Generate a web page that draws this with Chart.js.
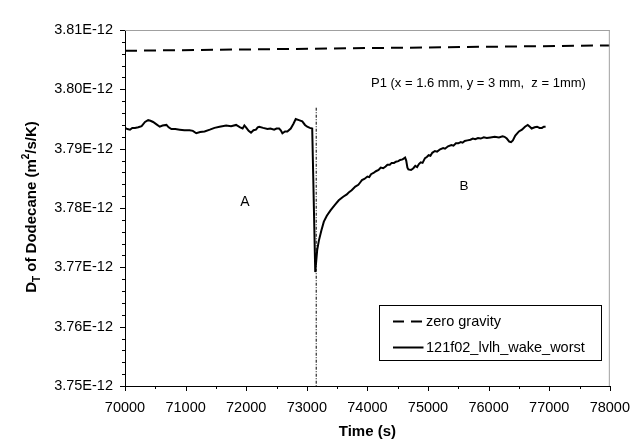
<!DOCTYPE html>
<html>
<head>
<meta charset="utf-8">
<script src="https://cdn.jsdelivr.net/npm/chart.js@4/dist/chart.umd.min.js"></script>
<style>
  html, body { margin: 0; padding: 0; background: #fff; }
  canvas { display: block; }
</style>
</head>
<body>
<canvas id="c" width="643" height="440"></canvas>
<script>
// Values of D_T in units of 1E-12 m^2/s/K
const zeroGravityTime = [70000, 78000];
const zeroGravityDT   = [3.8065, 3.8074];

const wakeTime = [
  70000, 70040, 70082, 70120, 70164, 70220, 70274, 70330, 70382, 70420,
  70464, 70520, 70574, 70620, 70684, 70720, 70766, 70830, 70902, 70980,
  71066, 71120, 71176, 71240, 71313, 71400, 71477, 71560, 71669, 71750,
  71833, 71900, 71941, 71970, 71997, 72040, 72079, 72120, 72161, 72190,
  72215, 72280, 72351, 72400, 72461, 72500, 72543, 72570, 72597, 72640,
  72679, 72735, 72780, 72817, 72870, 72925, 72970, 73007, 73050, 73089,
  73139, 73171, 73199, 73240, 73281, 73330, 73391, 73460, 73527, 73600,
  73660, 73691, 73740, 73800, 73850, 73880, 73910, 73950, 74000, 74030,
  74060, 74100, 74140, 74184, 74220, 74260, 74300, 74330, 74370, 74400,
  74440, 74470, 74510, 74540, 74580, 74622, 74640, 74660, 74676, 74720,
  74758, 74790, 74820, 74850, 74880, 74910, 74950, 74980, 75010, 75040,
  75070, 75114, 75150, 75200, 75250, 75280, 75330, 75386, 75420, 75460,
  75500, 75540, 75570, 75606, 75650, 75700, 75740, 75780, 75824, 75870,
  75920, 75970, 76030, 76100, 76170, 76230, 76262, 76300, 76340, 76370,
  76400, 76440, 76500, 76550, 76600, 76645, 76680, 76710, 76760, 76800,
  76840, 76880, 76910, 76940
];
const wakeDT = [
  3.7935, 3.7933, 3.7932, 3.7935, 3.7935, 3.7936, 3.7938, 3.7945, 3.7948, 3.7947,
  3.7945, 3.7941, 3.7937, 3.7939, 3.7940, 3.7936, 3.7933, 3.7933, 3.7932, 3.7931,
  3.7931, 3.7930, 3.7926, 3.7928, 3.7929, 3.7932, 3.7935, 3.7937, 3.7939, 3.7938,
  3.7940, 3.7936, 3.7934, 3.7939, 3.7936, 3.7930, 3.7927, 3.7931, 3.7932, 3.7936,
  3.7937, 3.7935, 3.7933, 3.7934, 3.7932, 3.7934, 3.7934, 3.7931, 3.7926, 3.7929,
  3.7929, 3.7934, 3.7942, 3.7950, 3.7948, 3.7946, 3.7940, 3.7937, 3.7935, 3.7934,
  3.7692, 3.7729, 3.7745, 3.7762, 3.7777, 3.7787, 3.7796, 3.7805, 3.7813, 3.7819,
  3.7823, 3.7826, 3.7830, 3.7836, 3.7839, 3.7843, 3.7847, 3.7849, 3.7853, 3.7852,
  3.7857, 3.7859, 3.7862, 3.7864, 3.7868, 3.7867, 3.7870, 3.7873, 3.7873, 3.7876,
  3.7876, 3.7878, 3.7879, 3.7881, 3.7882, 3.7885, 3.7880, 3.7868, 3.7865, 3.7864,
  3.7867, 3.7871, 3.7869, 3.7874, 3.7877, 3.7876, 3.7884, 3.7886, 3.7889, 3.7888,
  3.7893, 3.7896, 3.7895, 3.7899, 3.7901, 3.7900, 3.7904, 3.7906, 3.7905, 3.7909,
  3.7909, 3.7911, 3.7910, 3.7913, 3.7914, 3.7915, 3.7917, 3.7916, 3.7918, 3.7917,
  3.7919, 3.7918, 3.7919, 3.7920, 3.7919, 3.7921, 3.7920, 3.7917, 3.7912, 3.7911,
  3.7914, 3.7922, 3.7929, 3.7932, 3.7937, 3.7940, 3.7937, 3.7934, 3.7936, 3.7937,
  3.7935, 3.7935, 3.7937, 3.7937
];

const markerTime = [73155, 73155];
const markerDT   = [3.7969, 3.75];

const xTicks = [70000, 71000, 72000, 73000, 74000, 75000, 76000, 77000, 78000];
const yTicks = [3.75, 3.76, 3.77, 3.78, 3.79, 3.80, 3.81];

const seriesNames = ['zero gravity', '121f02_lvlh_wake_worst'];

const FONT = '"Liberation Sans", Arial, sans-serif';

function pts(xs, ys) { return xs.map((x, i) => ({ x: x, y: ys[i] })); }

const decor = {
  id: 'decor',
  beforeDraw(chart) {
    const ctx = chart.ctx;
    ctx.save();
    ctx.fillStyle = '#fff';
    ctx.fillRect(0, 0, chart.width, chart.height);
    ctx.restore();
  },
  afterDraw(chart) {
    const ctx = chart.ctx;
    const a = chart.chartArea;
    const xs = chart.scales.x, ys = chart.scales.y;
    ctx.save();
    // top and right gray frame
    ctx.strokeStyle = '#a0a0a0';
    ctx.lineWidth = 1;
    ctx.beginPath();
    ctx.moveTo(a.left, a.top + 0.5); ctx.lineTo(a.right, a.top + 0.5);
    ctx.moveTo(a.right - 0.5, a.top); ctx.lineTo(a.right - 0.5, a.bottom);
    ctx.stroke();
    // ticks
    ctx.strokeStyle = '#000';
    ctx.beginPath();
    for (let v = xTicks[0]; v <= xTicks[xTicks.length - 1]; v += 500) {
      const px = Math.round(xs.getPixelForValue(v)) + 0.5;
      const major = xTicks.includes(v);
      ctx.moveTo(px, a.bottom); ctx.lineTo(px, a.bottom + (major ? 5 : 3));
    }
    for (let i = 0; i <= 30; i++) {
      const v = yTicks[0] + i * 0.002;
      const py = Math.round(ys.getPixelForValue(v)) + 0.5;
      const major = i % 5 === 0;
      ctx.moveTo(a.left, py); ctx.lineTo(a.left - (major ? 5 : 3), py);
    }
    ctx.stroke();

    ctx.fillStyle = '#000';
    // x title
    ctx.font = 'bold 15px ' + FONT;
    ctx.textAlign = 'center';
    ctx.textBaseline = 'alphabetic';
    ctx.fillText('Time (s)', (a.left + a.right) / 2, 436);

    // y title with subscript / superscript
    ctx.save();
    ctx.translate(36, 207);
    ctx.rotate(-Math.PI / 2);
    const big = 'bold 15px ' + FONT, small = 'bold 10px ' + FONT;
    const parts = [
      { t: 'D', f: big, dy: 0 },
      { t: 'T', f: small, dy: 4 },
      { t: ' of Dodecane (m', f: big, dy: 0 },
      { t: '2', f: small, dy: -7 },
      { t: '/s/K)', f: big, dy: 0 }
    ];
    let total = 0;
    parts.forEach(p => { ctx.font = p.f; p.w = ctx.measureText(p.t).width; total += p.w; });
    let cx = -total / 2;
    ctx.textAlign = 'left';
    parts.forEach(p => { ctx.font = p.f; ctx.fillText(p.t, cx, p.dy); cx += p.w; });
    ctx.restore();

    // annotations
    ctx.textAlign = 'left';
    ctx.textBaseline = 'middle';
    ctx.font = '13px ' + FONT;
    ctx.fillText('P1 (x = 1.6 mm, y = 3 mm,  z = 1mm)', 371, 83);
    ctx.textAlign = 'center';
    ctx.font = '14px ' + FONT;
    ctx.fillText('A', 245, 202);
    ctx.font = '13.5px ' + FONT;
    ctx.fillText('B', 464, 186.5);

    // legend
    const lx = 379.5, ly = 305.5, lw = 222, lh = 55;
    ctx.fillStyle = '#fff';
    ctx.fillRect(lx, ly, lw, lh);
    ctx.strokeStyle = '#000';
    ctx.lineWidth = 1;
    ctx.strokeRect(lx, ly, lw, lh);
    const rows = [321.5, 347.5];
    chart.data.datasets.slice(0, 2).forEach((ds, i) => {
      ctx.beginPath();
      ctx.lineWidth = 2;
      ctx.setLineDash(i === 0 ? [11, 7] : []);
      ctx.moveTo(393, rows[i]); ctx.lineTo(423.5, rows[i]);
      ctx.stroke();
      ctx.setLineDash([]);
      ctx.fillStyle = '#000';
      ctx.textAlign = 'left';
      ctx.textBaseline = 'middle';
      ctx.font = '14.5px ' + FONT;
      ctx.fillText(ds.label, 426, rows[i] + 0.5);
    });
    ctx.restore();
  }
};

new Chart(document.getElementById('c'), {
  type: 'line',
  data: {
    datasets: [
      { label: seriesNames[0], data: pts(zeroGravityTime, zeroGravityDT),
        borderColor: '#000', borderWidth: 2, borderDash: [12, 7], pointRadius: 0, fill: false },
      { label: seriesNames[1], data: pts(wakeTime, wakeDT),
        borderColor: '#000', borderWidth: 2, pointRadius: 0, fill: false, tension: 0 },
      { label: 'marker', data: pts(markerTime, markerDT),
        borderColor: '#000', borderWidth: 1, borderDash: [3, 1.5, 1, 1.5], pointRadius: 0, fill: false }
    ]
  },
  options: {
    responsive: false,
    animation: false,
    events: [],
    layout: { padding: { top: 30, right: 30.3, left: 0, bottom: 0 } },
    plugins: { legend: { display: false }, tooltip: { enabled: false }, title: { display: false } },
    scales: {
      x: {
        type: 'linear', min: 70000, max: 78000,
        afterFit: s => { s.height = 54; },
        afterBuildTicks: s => { s.ticks = xTicks.map(v => ({ value: v })); },
        ticks: { color: '#000', font: { family: FONT, size: 14.5 }, padding: 13, maxRotation: 0,
                 callback: v => String(v) },
        grid: { display: true, drawOnChartArea: false, drawTicks: false },
        border: { display: true, color: '#000', width: 1 }
      },
      y: {
        type: 'linear', min: 3.75, max: 3.81,
        afterFit: s => { s.width = 125; },
        afterBuildTicks: s => { s.ticks = yTicks.map(v => ({ value: v })); },
        ticks: { color: '#000', font: { family: FONT, size: 14.5 }, padding: 12,
                 callback: v => v.toFixed(2) + 'E-12' },
        grid: { display: true, drawOnChartArea: false, drawTicks: false },
        border: { display: true, color: '#000', width: 1 }
      }
    }
  },
  plugins: [decor]
});
</script>
</body>
</html>
